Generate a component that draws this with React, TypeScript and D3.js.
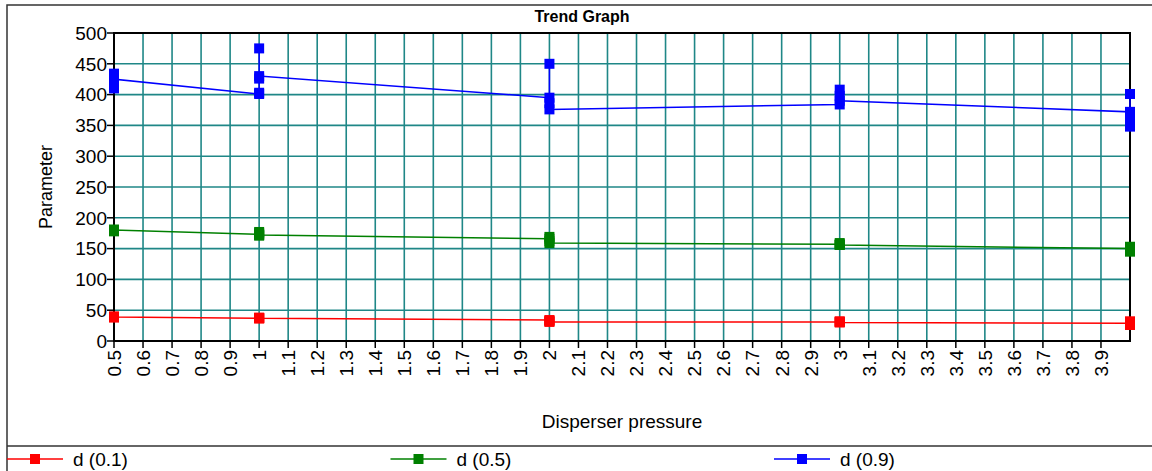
import React from "react";
import * as d3 from "d3";

// disperser pressure of every measurement (replicates share a pressure)
const pressure = [
  0.5, 0.5, 0.5, 0.5,
  1, 1, 1, 1, 1,
  2, 2, 2, 2,
  3, 3, 3, 3,
  4, 4, 4, 4, 4,
];
const d10 = [39, 40, 38, 39, 37, 38, 37, 37, 37, 34, 33, 32, 31, 31, 32, 31, 30, 29, 32, 26, 27, 28];
const d50 = [179, 181, 178, 180, 173, 177, 171, 175, 172, 166, 169, 162, 159, 157, 159, 156, 156, 150, 153, 145, 148, 151];
const d90 = [434, 410, 418, 425, 401, 403, 475, 426, 430, 395, 450, 386, 376, 384, 408, 398, 390, 372, 401, 366, 357, 348];

const seriesNames = ["d (0.1)", "d (0.5)", "d (0.9)"];
const seriesColors = ["#ff0000", "#008000", "#0000ff"];
const seriesValues = [d10, d50, d90];

const xTicks = [
  0.5, 0.6, 0.7, 0.8, 0.9, 1, 1.1, 1.2, 1.3, 1.4, 1.5, 1.6, 1.7, 1.8, 1.9, 2,
  2.1, 2.2, 2.3, 2.4, 2.5, 2.6, 2.7, 2.8, 2.9, 3, 3.1, 3.2, 3.3, 3.4, 3.5, 3.6,
  3.7, 3.8, 3.9,
];
const yTicks = [0, 50, 100, 150, 200, 250, 300, 350, 400, 450, 500];

const W = 1152;
const H = 471;
const font = "'Liberation Sans', Arial, sans-serif";
const gridColor = "#1f8787";

export default function App() {
  const left = 114, right = 1130, top = 33, bottom = 341;
  const x = d3.scaleLinear().domain([0.5, 4]).range([left, right]);
  const y = d3.scaleLinear().domain([0, 500]).range([bottom, top]);
  const line = d3
    .line<number>()
    .x((_, i) => x(pressure[i]))
    .y((d) => y(d));
  const ms = 10;

  return (
    <svg
      width={W}
      height={H}
      style={{ position: "absolute", left: 0, top: 0, background: "#fff" }}
      fontFamily={font}
    >
      <rect x={0} y={0} width={W} height={H} fill="#fff" />
      {/* outer frame */}
      <rect x={7} y={5} width={W + 20} height={H + 20} fill="none" stroke="#333" strokeWidth={1.5} />
      <line x1={7} x2={W} y1={446} y2={446} stroke="#333" strokeWidth={1.5} />

      <text x={582} y={22} textAnchor="middle" fontWeight="bold" fontSize={16}>
        Trend Graph
      </text>

      {/* grid */}
      {xTicks.slice(1).map((t) => (
        <line key={"gx" + t} x1={x(t)} x2={x(t)} y1={top} y2={bottom} stroke={gridColor} strokeWidth={1.6} />
      ))}
      {yTicks.slice(1, -1).map((t) => (
        <line key={"gy" + t} x1={left} x2={right} y1={y(t)} y2={y(t)} stroke={gridColor} strokeWidth={1.6} />
      ))}

      {/* frame of plot */}
      <rect x={left} y={top} width={right - left} height={bottom - top} fill="none" stroke="#000" strokeWidth={2} />

      {/* y axis */}
      {yTicks.map((t) => (
        <g key={"yt" + t}>
          <line x1={left - 7} x2={left} y1={y(t)} y2={y(t)} stroke="#000" strokeWidth={1.5} />
          <text x={left - 7} y={y(t)} dy="0.36em" textAnchor="end" fontSize={19}>
            {t}
          </text>
        </g>
      ))}
      <text
        transform={`translate(52,${(top + bottom) / 2}) rotate(-90)`}
        textAnchor="middle"
        fontSize={18}
      >
        Parameter
      </text>

      {/* x axis */}
      {xTicks.map((t) => (
        <g key={"xt" + t}>
          <line x1={x(t)} x2={x(t)} y1={bottom} y2={bottom + 7} stroke="#000" strokeWidth={1.5} />
          <text
            transform={`translate(${x(t)},${bottom + 9}) rotate(-90)`}
            dy="0.36em"
            textAnchor="end"
            fontSize={19}
          >
            {d3.format("~g")(t)}
          </text>
        </g>
      ))}
      <text x={(left + right) / 2} y={428} textAnchor="middle" fontSize={19}>
        Disperser pressure
      </text>

      {/* series */}
      {seriesValues.map((vals, s) => (
        <g key={"s" + s}>
          <path d={line(vals) ?? ""} fill="none" stroke={seriesColors[s]} strokeWidth={1.5} />
          {vals.map((v, i) => (
            <rect
              key={i}
              x={x(pressure[i]) - ms / 2}
              y={y(v) - ms / 2}
              width={ms}
              height={ms}
              fill={seriesColors[s]}
            />
          ))}
        </g>
      ))}

      {/* legend */}
      {seriesNames.map((name, s) => {
        const lx = 7 + s * 383.5;
        const ly = 459;
        return (
          <g key={"lg" + s}>
            <line x1={lx} x2={lx + 56} y1={ly} y2={ly} stroke={seriesColors[s]} strokeWidth={1.5} />
            <rect x={lx + 26 - ms / 2 + 2} y={ly - ms / 2} width={ms} height={ms} fill={seriesColors[s]} />
            <text x={lx + 66} y={ly} dy="0.36em" fontSize={19}>
              {name}
            </text>
          </g>
        );
      })}
    </svg>
  );
}
